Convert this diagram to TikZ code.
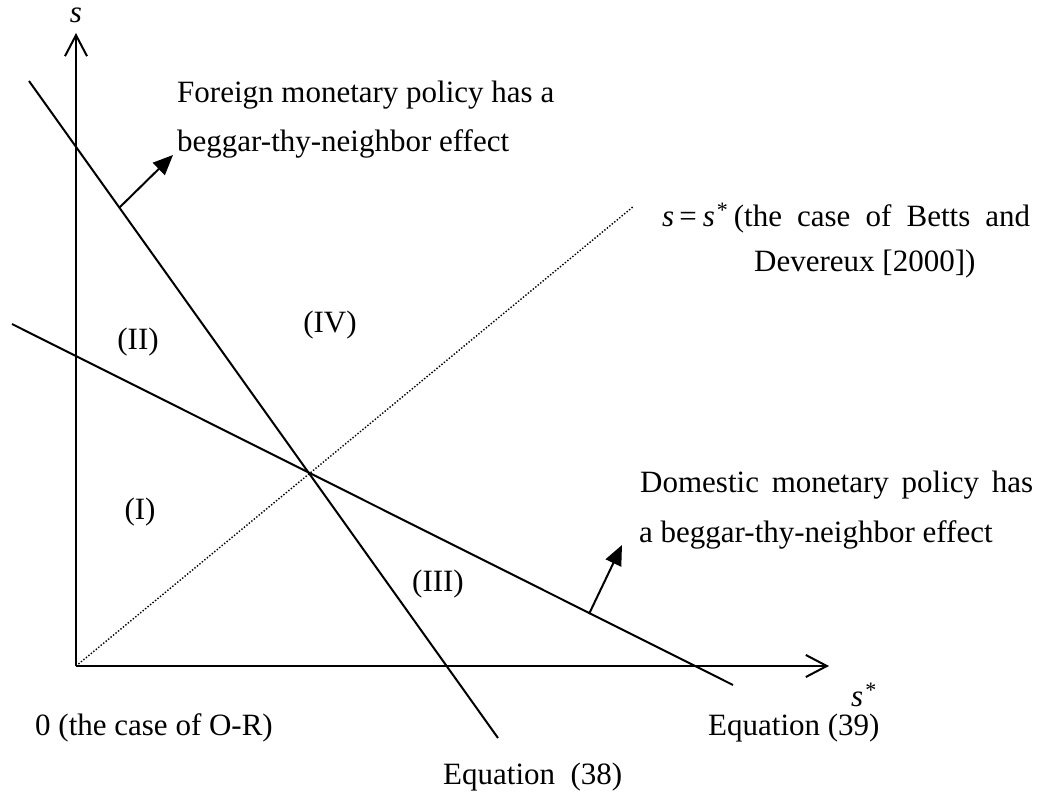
\documentclass[tikz,border=0pt]{standalone}
\usepackage{fontspec}
\setmainfont{Liberation Serif}
\usetikzlibrary{arrows.meta}
\newcommand{\mystar}{\hspace{2pt}\raisebox{9pt}{\upshape\fontsize{22}{22}\selectfont *}}
\begin{document}
\begin{tikzpicture}[x=1pt,y=-1pt,
  axisline/.style={line width=2pt, -{Straight Barb[length=21pt,width=22pt,line width=2pt]}},
  curveline/.style={line width=2pt},
  diagline/.style={line width=1.4pt, dash pattern=on 1.4pt off 1.8pt},
  effarrow/.style={line width=2pt, -{Triangle[length=20pt,width=17pt]}},
  lbl/.style={inner sep=0pt, anchor=base west, font=\fontsize{31}{45}\selectfont},
  clbl/.style={inner sep=0pt, anchor=base, font=\fontsize{31}{45}\selectfont},
]
\useasboundingbox (0,0) rectangle (1039,794);
% key points
\coordinate (O) at (76,666);
\coordinate (ytip) at (76,33);
\coordinate (xtip) at (829,666);
\coordinate (a1) at (29,81);
\coordinate (a2) at (498,738);
\coordinate (b1) at (12,324);
\coordinate (b2) at (733,685);
\coordinate (d2) at (634,206);
\coordinate (fa1) at (119,208);
\coordinate (fa2) at (173,155);
\coordinate (da1) at (589,614);
\coordinate (da2) at (622,545);
% axes
\draw[axisline] (O) -- (ytip);
\draw[axisline] (O) -- (xtip);
% lines
\draw[curveline] (a1) -- (a2);
\draw[curveline] (b1) -- (b2);
\draw[diagline] (O) -- (d2);
% effect arrows
\draw[effarrow] (fa1) -- (fa2);
\draw[effarrow] (da1) -- (da2);
% axis labels
\node[clbl] (ylab) at (76,23) {\itshape s};
\node[lbl] (xlab) at (851,706) {\itshape s\mystar};
% texts
\node[lbl] (for1) at (177,103) {Foreign monetary policy has a};
\node[lbl] (for2) at (177,152) {beggar-thy-neighbor effect};
\node[lbl] (bet1) at (662,227) {\makebox[368pt][s]{\mbox{{\itshape s}\hspace{5pt}=\hspace{6pt}{\itshape s}\mystar}\hspace{6pt}(the case of Betts and}};
\node[lbl] (bet2) at (754,272) {Devereux [2000])};
\node[lbl] (dom1) at (640,492) {\makebox[393pt][s]{Domestic monetary policy has}};
\node[lbl] (dom2) at (639,542) {a beggar-thy-neighbor effect};
\node[clbl] (r4) at (330,333) {(IV)};
\node[clbl] (r2) at (138,349) {(II)};
\node[clbl] (r1) at (140,519) {(I)};
\node[clbl] (r3) at (438,591) {(III)};
\node[lbl] (zero) at (35,735) {0 (the case of O-R)};
\node[lbl] (eq39) at (708,735) {Equation (39)};
\node[lbl] (eq38) at (443,784) {Equation\ \ (38)};
\end{tikzpicture}
\end{document}
